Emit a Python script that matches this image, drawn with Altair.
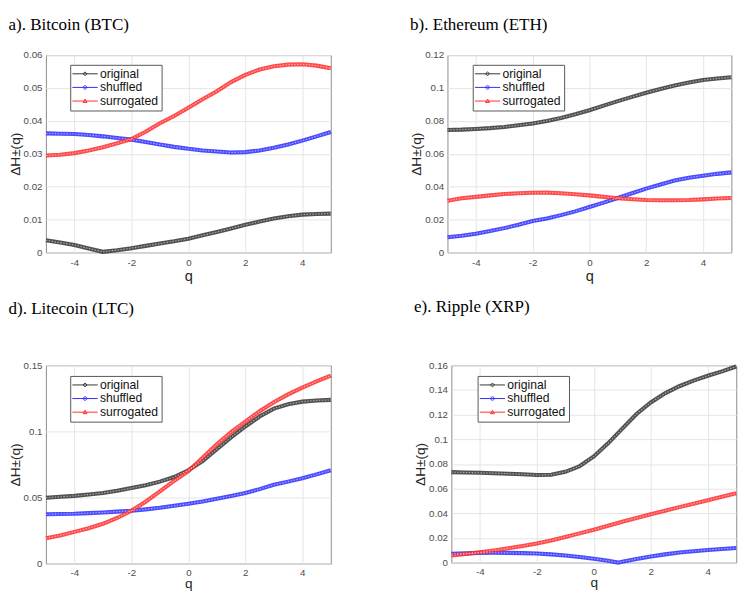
import altair as alt
import pandas as pd

SERIES = ["original", "shuffled", "surrogated"]
COLORS = ["#333333", "#2b2bff", "#ff2b2b"]
# legend symbols: line segment + small marker (diamond, circle, triangle)
LEG_PATHS = [
    "M-2.6,0L2.6,0M0,-0.4L0.4,0L0,0.4L-0.4,0Z",
    "M-2.6,0L2.6,0M0.35,0A0.35,0.35 0 1,1 -0.35,0A0.35,0.35 0 1,1 0.35,0",
    "M-2.6,0L2.6,0M0,-0.4L0.4,0.3L-0.4,0.3Z",
]

Q = [-5, -4.5, -4, -3.5, -3, -2.5, -2, -1.5, -1, -0.5, 0, 0.5, 1, 1.5, 2, 2.5, 3, 3.5, 4, 4.5, 5]

# a) Bitcoin
BTC_ORIG = [0.0037, 0.0030, 0.0023, 0.0012, 0.0002, 0.0007, 0.0013, 0.0020, 0.0027, 0.0034, 0.0042,
            0.0052, 0.0062, 0.0073, 0.0084, 0.0094, 0.0103, 0.0110, 0.0115, 0.0117, 0.0118]
BTC_SHUF = [0.0362, 0.0361, 0.0360, 0.0357, 0.0353, 0.0348, 0.0343, 0.0336, 0.0328, 0.0321, 0.0315,
            0.0310, 0.0307, 0.0304, 0.0305, 0.0310, 0.0318, 0.0328, 0.0340, 0.0353, 0.0366]
BTC_SURR = [0.0295, 0.0297, 0.0302, 0.0310, 0.0320, 0.0332, 0.0345, 0.0367, 0.0393, 0.0415, 0.0440,
            0.0466, 0.0490, 0.0518, 0.0540, 0.0556, 0.0566, 0.0571, 0.0572, 0.0568, 0.0560]

# b) Ethereum
ETH_ORIG = [0.0745, 0.0747, 0.0751, 0.0756, 0.0763, 0.0773, 0.0784, 0.0800, 0.0818, 0.0840, 0.0865,
            0.0893, 0.0920, 0.0946, 0.0971, 0.0994, 0.1015, 0.1033, 0.1048, 0.1058, 0.1065]
ETH_SHUF = [0.0093, 0.0102, 0.0114, 0.0130, 0.0148, 0.0168, 0.0191, 0.0207, 0.0227, 0.0250, 0.0276,
            0.0303, 0.0331, 0.0360, 0.0388, 0.0413, 0.0437, 0.0454, 0.0467, 0.0478, 0.0487]
ETH_SURR = [0.0315, 0.0330, 0.0338, 0.0347, 0.0355, 0.0360, 0.0363, 0.0364, 0.0360, 0.0354, 0.0347,
            0.0338, 0.0330, 0.0324, 0.0319, 0.0317, 0.0317, 0.0319, 0.0323, 0.0328, 0.0331]

# d) Litecoin
LTC_ORIG = [0.0498, 0.0505, 0.0512, 0.0522, 0.0534, 0.0551, 0.0571, 0.0593, 0.0620, 0.0655, 0.0706,
            0.0775, 0.0865, 0.0955, 0.1037, 0.1112, 0.1172, 0.1205, 0.1225, 0.1234, 0.1238]
LTC_SHUF = [0.0373, 0.0375, 0.0377, 0.0382, 0.0387, 0.0393, 0.0400, 0.0410, 0.0422, 0.0437, 0.0453,
            0.0470, 0.0490, 0.0511, 0.0534, 0.0563, 0.0596, 0.0620, 0.0645, 0.0675, 0.0706]
LTC_SURR = [0.0191, 0.0213, 0.0240, 0.0268, 0.0301, 0.0345, 0.0400, 0.0468, 0.0547, 0.0625, 0.0700,
            0.0800, 0.0902, 0.0995, 0.1074, 0.1152, 0.1220, 0.1280, 0.1331, 0.1378, 0.1422]

# e) Ripple
XRP_ORIG = [0.0734, 0.0731, 0.0728, 0.0725, 0.0721, 0.0716, 0.0710, 0.0713, 0.0736, 0.0781, 0.0861,
            0.0967, 0.1086, 0.1205, 0.1298, 0.1372, 0.1430, 0.1475, 0.1515, 0.1550, 0.1590]
Q_XRP_SHUF = [-5, -4.5, -4, -3.5, -3, -2.5, -2, -1.5, -1, -0.5, 0, 0.5, 0.85, 1, 1.5, 2, 2.5, 3, 3.5, 4, 4.5, 5]
XRP_SHUF = [0.0071, 0.0075, 0.0079, 0.0080, 0.0079, 0.0077, 0.0074, 0.0067, 0.0058, 0.0046, 0.0032,
            0.0015, 0.0000, 0.0008, 0.0030, 0.0050, 0.0067, 0.0082, 0.0093, 0.0103, 0.0111, 0.0118]
XRP_SURR = [0.0058, 0.0070, 0.0084, 0.0099, 0.0116, 0.0135, 0.0155, 0.0180, 0.0208, 0.0237, 0.0266,
            0.0299, 0.0332, 0.0362, 0.0392, 0.0421, 0.0450, 0.0478, 0.0505, 0.0534, 0.0563]

TITLES = ["a). Bitcoin (BTC)", "b). Ethereum (ETH)", "d). Litecoin (LTC)", "e). Ripple (XRP)"]
Y_DOMAINS = [[0, 0.06], [0, 0.12], [0, 0.15], [0, 0.16]]
Y_TICKS = [
    [0, 0.01, 0.02, 0.03, 0.04, 0.05, 0.06],
    [0, 0.02, 0.04, 0.06, 0.08, 0.1, 0.12],
    [0, 0.05, 0.1, 0.15],
    [0, 0.02, 0.04, 0.06, 0.08, 0.1, 0.12, 0.14, 0.16],
]
X_TICKS = [-4, -2, 0, 2, 4]


def frame(series_list):
    rows = []
    for name, qs, vals in series_list:
        for q, v in zip(qs, vals):
            rows.append({"q": q, "value": v, "series": name})
    return pd.DataFrame(rows)


DATA = [
    frame([("original", Q, BTC_ORIG), ("shuffled", Q, BTC_SHUF), ("surrogated", Q, BTC_SURR)]),
    frame([("original", Q, ETH_ORIG), ("shuffled", Q, ETH_SHUF), ("surrogated", Q, ETH_SURR)]),
    frame([("original", Q, LTC_ORIG), ("shuffled", Q, LTC_SHUF), ("surrogated", Q, LTC_SURR)]),
    frame([("original", Q, XRP_ORIG), ("shuffled", Q_XRP_SHUF, XRP_SHUF), ("surrogated", Q, XRP_SURR)]),
]


def panel(i, width, height, title_offset, legend_x, legend_y,
          x_label_pad=5, x_title_pad=2, x_title_size=15):
    df = DATA[i]
    x = alt.X("q:Q", scale=alt.Scale(domain=[-5, 5], nice=False),
              axis=alt.Axis(values=X_TICKS, labelExpr="'' + datum.value", title="q",
                            grid=True, gridColor="#e4e4e4", ticks=False, domain=False,
                            labelFont="Liberation Sans", labelFontSize=10, labelColor="#4d4d4d",
                            labelPadding=x_label_pad, titleFont="Liberation Sans",
                            titleFontSize=x_title_size, titleFontWeight="normal",
                            titleColor="#262626", titlePadding=x_title_pad))
    y = alt.Y("value:Q", scale=alt.Scale(domain=Y_DOMAINS[i], nice=False, zero=True),
              axis=alt.Axis(values=Y_TICKS[i], labelExpr="'' + datum.value", title="ΔH±(q)",
                            grid=True, gridColor="#e4e4e4", ticks=False, domain=False,
                            labelFont="Liberation Sans", labelFontSize=10, labelColor="#4d4d4d",
                            labelPadding=4, titleFont="Liberation Sans", titleFontSize=14,
                            titleFontWeight="normal", titleColor="#262626", titlePadding=1))
    leg = alt.Legend(orient="none", legendX=legend_x, legendY=legend_y, title=None,
                     strokeColor="#555555", fillColor="white", padding=3,
                     labelFont="Liberation Sans", labelFontSize=12.5, labelColor="#111111",
                     symbolSize=100, symbolStrokeWidth=1, symbolOpacity=1, symbolOffset=6,
                     labelOffset=9, rowPadding=1)
    color = alt.Color("series:N", scale=alt.Scale(domain=SERIES, range=COLORS), legend=leg)
    base = alt.Chart(df)
    band = base.mark_line(strokeWidth=4.2, opacity=0.85).encode(x=x, y=y, color=color)
    texture = base.mark_line(strokeWidth=1.1, color="white", opacity=0.55,
                             strokeDash=[1.5, 1.5]).encode(x=x, y=y, detail="series:N")
    legend_layer = base.mark_point(filled=False, opacity=0).encode(
        x=x, y=y, color=color,
        shape=alt.Shape("series:N", scale=alt.Scale(domain=SERIES, range=LEG_PATHS), legend=leg),
    )
    return alt.layer(band, texture, legend_layer).properties(
        width=width, height=height,
        title=alt.TitleParams(TITLES[i], anchor="start", frame="bounds", font="Liberation Serif",
                              fontSize=17.5, fontWeight="normal", color="black",
                              offset=title_offset),
    )


def indep(ch):
    return ch.resolve_scale(color="independent", shape="independent").resolve_legend(
        color="independent", shape="independent")


row1 = indep(alt.hconcat(panel(0, 293, 203, 17, 25, 10),
                         panel(1, 292, 203, 17, 26, 10), spacing=72))
row2 = indep(alt.hconcat(panel(2, 293, 204, 44, 25, 11, x_label_pad=4, x_title_pad=0, x_title_size=14),
                         panel(3, 293, 203, 44, 27, 11, x_label_pad=4, x_title_pad=0, x_title_size=14),
                         spacing=76))

chart = indep(alt.vconcat(row1, row2, spacing=13)).properties(
    padding={"left": 0, "top": 0, "right": 0, "bottom": 0}, background="white").configure_view(
    stroke="#8a8a8a", strokeWidth=1)

chart.save("out.html", embed_options={"renderer": "svg", "actions": False})
